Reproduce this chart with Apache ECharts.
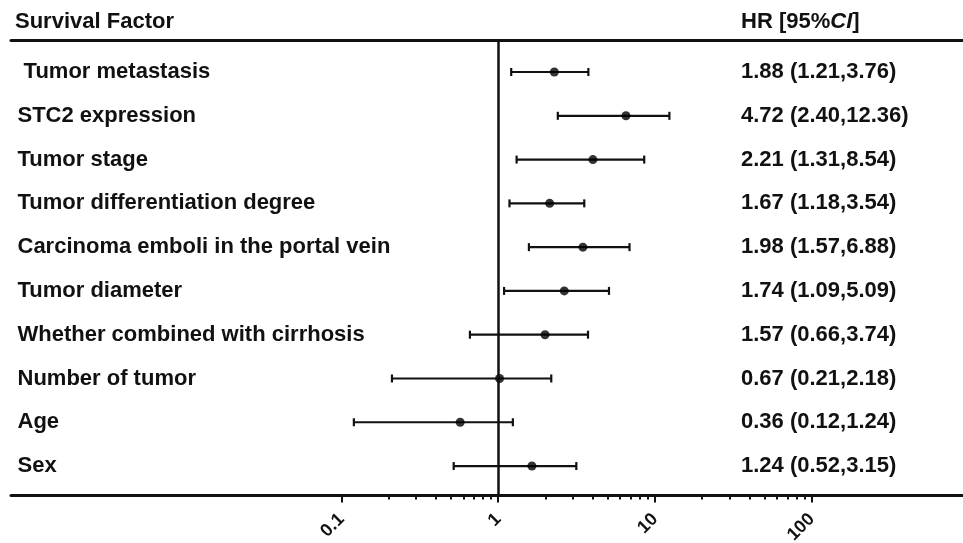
<!DOCTYPE html>
<html><head><meta charset="utf-8">
<script src="https://cdn.jsdelivr.net/npm/echarts@6/dist/echarts.min.js"></script>
<style>html,body{margin:0;padding:0;background:#fff}#c{width:963px;height:543px}</style>
</head><body><div id="c"></div>
<script>
// ---- data ----
const factors = [' Tumor metastasis', 'STC2 expression', 'Tumor stage', 'Tumor differentiation degree',
  'Carcinoma emboli in the portal vein', 'Tumor diameter', 'Whether combined with cirrhosis',
  'Number of tumor', 'Age', 'Sex'];
const hrPoint = [2.28, 6.53, 4.02, 2.13, 3.47, 2.64, 1.99, 1.02, 0.572, 1.64];
const ciLow = [1.21, 2.40, 1.31, 1.18, 1.57, 1.09, 0.66, 0.21, 0.12, 0.52];
const ciHigh = [3.76, 12.36, 8.54, 3.54, 6.88, 5.09, 3.74, 2.18, 1.24, 3.15];
const hrText = ['1.88 (1.21,3.76)', '4.72 (2.40,12.36)', '2.21 (1.31,8.54)', '1.67 (1.18,3.54)',
  '1.98 (1.57,6.88)', '1.74 (1.09,5.09)', '1.57 (0.66,3.74)', '0.67 (0.21,2.18)',
  '0.36 (0.12,1.24)', '1.24 (0.52,3.15)'];
const majorTicks = [0.1, 1, 10, 100];
const majorTickLabels = ['0.1', '1', '10', '100'];
const minorTicks = [0.2, 0.3, 0.4, 0.5, 0.6, 0.7, 0.8, 0.9, 2, 3, 4, 5, 6, 7, 8, 9, 20, 30, 40, 50, 60, 70, 80, 90];
const refLine = 1;

// ---- build ----
const L = Math.log10;
const X_MIN = -3.108, X_MAX = 2.965;
const Y_MIN = -0.72, Y_MAX = 9.673;
const FONT = "'Liberation Sans', Arial, sans-serif";
const FS = 22;
const rowIdx = factors.map((_, i) => i);
const majorLog = majorTicks.map(L);

const chart = echarts.init(document.getElementById('c'), null, { renderer: 'canvas' });
const baseX = { type: 'value', min: X_MIN, max: X_MAX, splitLine: { show: false } };
const baseY = { type: 'value', inverse: true, min: Y_MIN, max: Y_MAX, splitLine: { show: false },
  axisLine: { show: false, onZero: false }, axisTick: { show: false } };

chart.setOption({
  animation: false,
  backgroundColor: '#fff',
  title: [
    { text: 'Survival Factor', left: 15, top: 11, padding: 0,
      textStyle: { fontFamily: FONT, fontSize: FS, fontWeight: 'bold', color: '#111' } },
    { text: '{n|HR [95%}{i|CI}{n|]}', left: 741, top: 11, padding: 0,
      textStyle: { fontFamily: FONT, fontSize: FS, fontWeight: 'bold', color: '#111',
        rich: { n: { fontFamily: FONT, fontSize: FS, fontWeight: 'bold', color: '#111' },
                i: { fontFamily: FONT, fontSize: FS, fontWeight: 'bold', fontStyle: 'italic', color: '#111' } } } }
  ],
  grid: { left: 11, right: 0, top: 40.5, bottom: 47.5, containLabel: false, outerBoundsMode: 'none' },
  xAxis: [
    Object.assign({}, baseX, {
      position: 'bottom',
      axisLine: { show: true, onZero: false, lineStyle: { color: '#111', width: 3 } },
      axisTick: { show: true, customValues: majorLog, length: 7, lineStyle: { color: '#111', width: 2 } },
      axisLabel: { show: true, customValues: majorLog, rotate: 45, margin: 21,
        fontFamily: FONT, fontSize: 18, fontWeight: 'bold', color: '#111',
        formatter: v => majorTickLabels[majorLog.findIndex(m => Math.abs(m - v) < 1e-6)] }
    }),
    Object.assign({}, baseX, {
      position: 'bottom',
      axisLine: { show: false, onZero: false },
      axisTick: { show: true, customValues: minorTicks.map(L), length: 4, lineStyle: { color: '#111', width: 2 } },
      axisLabel: { show: false }
    }),
    Object.assign({}, baseX, {
      position: 'top',
      axisLine: { show: true, onZero: false, lineStyle: { color: '#111', width: 3 } },
      axisTick: { show: false }, axisLabel: { show: false }
    })
  ],
  yAxis: [
    Object.assign({}, baseY, {
      position: 'left',
      axisLabel: { show: true, customValues: rowIdx, inside: true, margin: 6.5, align: 'left',
        fontFamily: FONT, fontSize: FS, fontWeight: 'bold', color: '#111',
        formatter: v => factors[Math.round(v)] }
    }),
    Object.assign({}, baseY, {
      position: 'right',
      axisLabel: { show: true, customValues: rowIdx, inside: true, margin: 222, align: 'left',
        fontFamily: FONT, fontSize: FS, fontWeight: 'bold', color: '#111',
        formatter: v => hrText[Math.round(v)] }
    })
  ],
  series: [
    {
      type: 'custom', xAxisIndex: 0, yAxisIndex: 0, silent: true,
      data: rowIdx.map(i => [i, L(ciLow[i]), L(ciHigh[i])]),
      encode: { x: [1, 2], y: 0 },
      renderItem: function (params, api) {
        const y = api.value(0);
        const p1 = api.coord([api.value(1), y]);
        const p2 = api.coord([api.value(2), y]);
        const cap = 4;
        const st = { stroke: '#111', lineWidth: 2.2 };
        return { type: 'group', children: [
          { type: 'line', shape: { x1: p1[0], y1: p1[1], x2: p2[0], y2: p2[1] }, style: st },
          { type: 'line', shape: { x1: p1[0], y1: p1[1] - cap, x2: p1[0], y2: p1[1] + cap }, style: st },
          { type: 'line', shape: { x1: p2[0], y1: p2[1] - cap, x2: p2[0], y2: p2[1] + cap }, style: st }
        ] };
      },
      z: 3
    },
    {
      type: 'scatter', xAxisIndex: 0, yAxisIndex: 0, silent: true,
      symbol: 'circle', symbolSize: 9,
      itemStyle: { color: '#000' },
      data: rowIdx.map(i => [L(hrPoint[i]), i]),
      z: 4,
      markLine: {
        silent: true, symbol: 'none', label: { show: false },
        lineStyle: { color: '#111', width: 2.5, type: 'solid' },
        data: [{ xAxis: L(refLine) }]
      }
    }
  ]
});
</script></body></html>
